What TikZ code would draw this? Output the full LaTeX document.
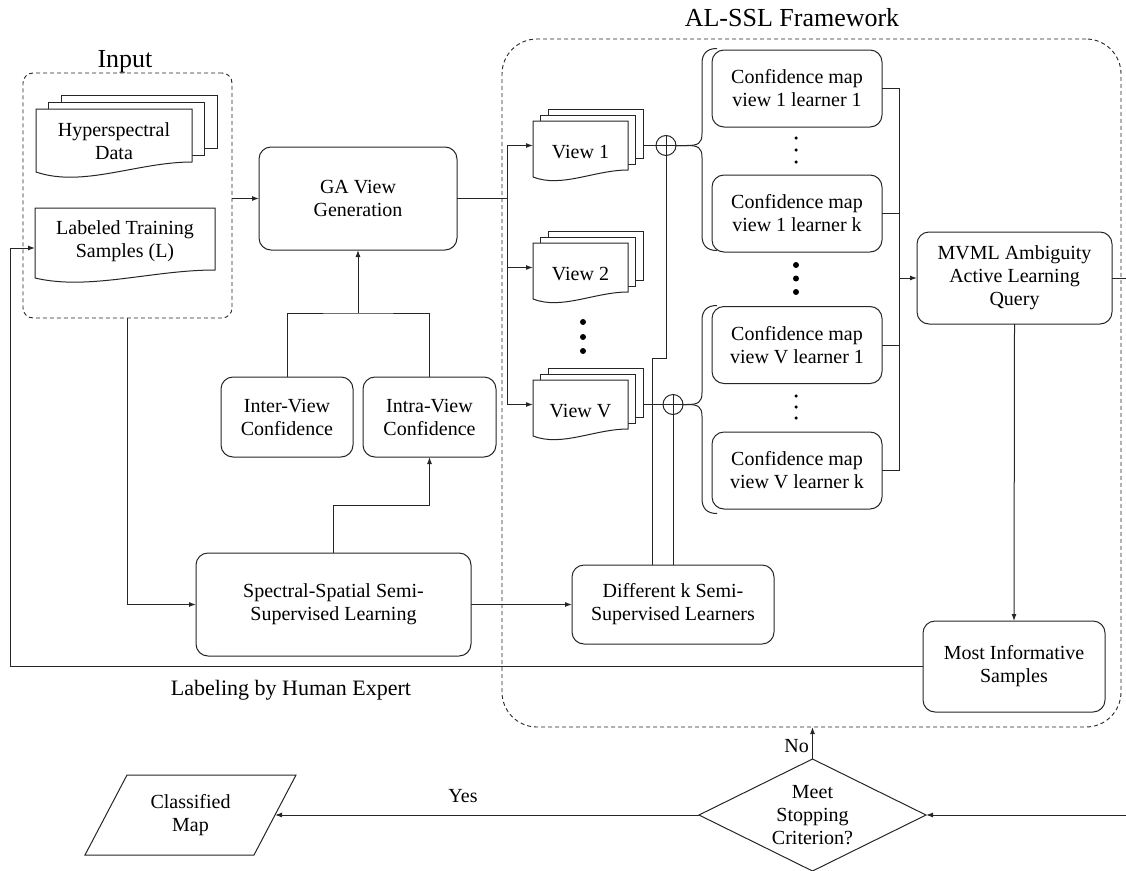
\documentclass[tikz,border=0pt]{standalone}
\usepackage{fontspec}
\setmainfont{Liberation Serif}
\usetikzlibrary{arrows.meta,calc,shapes.geometric}
\newcommand\fsz{\fontsize{20}{23}\selectfont}
\newcommand\docdraw[2]{%
  \draw[ln, fill=white] let \p1=(#1.north west), \p2=(#1.south east) in
    (\x1,\y1) -- (\x2,\y1) -- (\x2,\y2)
    .. controls ({\x2-0.35*(\x2-\x1)},\y2) and ({\x1+0.3*(\x2-\x1)},{\y2-2.6*#2pt}) ..
    (\x1,{\y2-#2pt}) -- cycle;}
\newcommand\backlayer[3]{%
  \draw[ln, fill=white] ([shift={(#2,-#3)}]#1.north west) rectangle ([shift={(#2,-#3)}]#1.south east);}
\begin{document}
\begin{tikzpicture}[x=1pt,y=-1pt,
  ln/.style={line width=1pt, draw=black!85},
  arr/.style={-{Latex[length=7pt,width=5pt]}},
  txt/.style={align=center, font=\fsz, inner sep=0pt},
  box/.style={ln, draw, rounded corners=12pt, align=center, font=\fsz, inner sep=0pt, outer sep=0pt},
  dbox/.style={line width=0.9pt, draw=black!85, dash pattern=on 4pt off 3pt, inner sep=0pt, outer sep=0pt},
  docnode/.style={inner sep=0pt, outer sep=0pt},
  oplus/.style={ln, draw, circle, minimum size=20pt, inner sep=0pt, outer sep=0pt,
    path picture={\draw[ln] (path picture bounding box.north) -- (path picture bounding box.south)
      (path picture bounding box.west) -- (path picture bounding box.east);}},
  bigdot/.style={fill=black, circle, inner sep=0pt, minimum size=6pt},
  smalldot/.style={fill=black, circle, inner sep=0pt, minimum size=3.5pt}]
\useasboundingbox (0,0) rectangle (1126,870);

% frames
\node[dbox, rounded corners=10pt, minimum width=209pt, minimum height=245pt] (inbox) at (127.5,195.5) {};
\node[txt, font=\fontsize{26}{30}\selectfont] (intitle) at (125,62) {Input};
\node[dbox, rounded corners=35pt, minimum width=619pt, minimum height=688pt] (alssl) at (811.5,383) {};
\node[txt, font=\fontsize{26}{30}\selectfont] (altitle) at (792,18) {AL-SSL Framework};

% document nodes
\node[docnode, minimum width=156pt, minimum height=53pt] (hyp) at (114,135.5) {};
\node[docnode, minimum width=180pt, minimum height=62pt] (lts) at (125,239) {};
\node[docnode, minimum width=95pt, minimum height=49pt] (v1) at (580.5,145.5) {};
\node[docnode, minimum width=95pt, minimum height=49pt] (v2) at (580.5,267.5) {};
\node[docnode, minimum width=95pt, minimum height=49pt] (vV) at (580.5,404.5) {};

\backlayer{hyp}{25}{14}\backlayer{hyp}{12.5}{7}\docdraw{hyp}{10}
\docdraw{lts}{8}
\foreach \v in {v1,v2,vV}{\backlayer{\v}{15}{12}\backlayer{\v}{7.5}{6}\docdraw{\v}{7}}

\node[txt] at ([yshift=-6pt]hyp.center) {Hyperspectral\\Data};
\node[txt] at ([yshift=-2pt]lts.center) {Labeled Training\\Samples (L)};
\node[txt] at ([yshift=-6.5pt]v1.center) {View 1};
\node[txt] at ([yshift=-6.5pt]v2.center) {View 2};
\node[txt] at ([yshift=-6.5pt]vV.center) {View V};

% boxes
\node[box, minimum width=198pt, minimum height=103pt] (ga) at (358,198.5) {GA View\\Generation};
\node[box, minimum width=132pt, minimum height=80pt] (inter) at (287,417) {Inter-View\\Confidence};
\node[box, minimum width=133pt, minimum height=80pt] (intra) at (429.5,417) {Intra-View\\Confidence};
\node[box, minimum width=275pt, minimum height=103pt] (ss) at (333.5,604.5) {Spectral-Spatial Semi-\\Supervised Learning};
\node[box, minimum width=202pt, minimum height=79pt] (dk) at (673,604.5) {Different k Semi-\\Supervised Learners};
\node[box, minimum width=170pt, minimum height=77pt] (c1) at (797,88.5) {Confidence map\\view 1 learner 1};
\node[box, minimum width=170pt, minimum height=77pt] (c2) at (797,213.5) {Confidence map\\view 1 learner k};
\node[box, minimum width=170pt, minimum height=77pt] (c3) at (797,345) {Confidence map\\view V learner 1};
\node[box, minimum width=170pt, minimum height=77pt] (c4) at (797,470.5) {Confidence map\\view V learner k};
\node[box, minimum width=195pt, minimum height=92pt] (mvml) at (1014.5,278) {MVML Ambiguity\\Active Learning\\Query};
\node[box, minimum width=182pt, minimum height=91pt] (mis) at (1014,666.5) {Most Informative\\Samples};
\node[ln, draw, diamond, minimum width=227pt, minimum height=112pt, inner sep=0pt, outer sep=0pt] (stop) at (812.5,815) {};
\node[txt] at (stop.center) {Meet\\Stopping\\Criterion?};
\draw[ln] (127,775) -- (296,775) -- (254,855) -- (85,855) -- cycle;
\node[txt] (cmap) at (190.5,815) {Classified\\Map};

% circles
\node[oplus] (o1) at (666,145.5) {};
\node[oplus] (oV) at (673,404.5) {};

% dots
\foreach \y in {322,337,351} \node[bigdot] at (583,\y) {};
\foreach \y in {265,278.5,292} \node[bigdot] at (796,\y) {};
\foreach \y in {138,150,162,396,407,418} \node[smalldot] at (796,\y) {};

% coordinates
\coordinate (busL) at (507,0);
\coordinate (busR) at (899,0);
\coordinate (jn) at (358,313);
\coordinate (ssup) at (333.5,505);
\coordinate (j2) at (652,358);
\coordinate (fb) at (10,666.5);
\coordinate (ltsin) at (35,248);
\coordinate (outR) at (1126,278);
\coordinate (inR) at (1126,815);
\coordinate (cmapin) at (275,815);

% connectors
\draw[ln,arr] (inbox.east |- ga.west) -- (ga.west);
\draw[ln,arr] (inbox.south) |- (ss.west);
\draw[ln] (inter.north) |- (jn) -| (intra.north);
\draw[ln,arr] (jn) -- (ga.south);
\draw[ln,arr] (ss.north) -- (ssup) -| (intra.south);
\draw[ln,arr] (ss.east) -- (dk.west);
\draw[ln] (ga.east) -- (ga.east -| busL);
\draw[ln] (v1.west -| busL) -- (vV.west -| busL);
\draw[ln,arr] (v1.west -| busL) -- (v1.west);
\draw[ln,arr] (v2.west -| busL) -- (v2.west);
\draw[ln,arr] (vV.west -| busL) -- (vV.west);
\draw[ln] ([xshift=15pt]v1.east) -- (o1.west);
\draw[ln] ([xshift=15pt]vV.east) -- (oV.west);
\draw[ln] (o1.south) |- (j2) -- (j2 |- dk.north);
\draw[ln] (oV.south) -- (oV.south |- dk.north);
% braces
\draw[ln] (o1.east) -- ++(11,0) .. controls ++(11,0) and ++(0,10) .. ++(15,-12)
  -- ++(0,-70) .. controls ++(0,-10) and ++(-10,0) .. ++(15,-15);
\draw[ln] (o1.east) -- ++(11,0) .. controls ++(11,0) and ++(0,-10) .. ++(15,12)
  -- ++(0,78) .. controls ++(0,10) and ++(-10,0) .. ++(15,15);
\draw[ln] (oV.east) -- ++(4,0) .. controls ++(11,0) and ++(0,10) .. ++(15,-12)
  -- ++(0,-72) .. controls ++(0,-10) and ++(-10,0) .. ++(15,-15);
\draw[ln] (oV.east) -- ++(4,0) .. controls ++(11,0) and ++(0,-10) .. ++(15,12)
  -- ++(0,82) .. controls ++(0,10) and ++(-10,0) .. ++(15,15);
% right bus
\draw[ln] (c1.east) -- (c1.east -| busR) -- (c4.east -| busR) -- (c4.east);
\draw[ln] (c2.east) -- (c2.east -| busR);
\draw[ln] (c3.east) -- (c3.east -| busR);
\draw[ln,arr] (mvml.west -| busR) -- (mvml.west);
\draw[ln] (mvml.east) -- (outR);
\draw[ln,arr] (mvml.south) -- (mis.north);
\draw[ln,arr] (mis.west) -- (fb) |- (ltsin);
\draw[ln,arr] (stop.north) -- (stop.north |- alssl.south);
\draw[ln,arr] (inR) -- (stop.east);
\draw[ln,arr] (stop.west) -- (cmapin);

% labels
\node[txt, font=\fontsize{22}{26}\selectfont] (lab) at (291,690) {Labeling by Human Expert};
\node[txt, anchor=east] (nolab) at (809,746) {No};
\node[txt] (yeslab) at (463,796) {Yes};
\end{tikzpicture}
\end{document}
